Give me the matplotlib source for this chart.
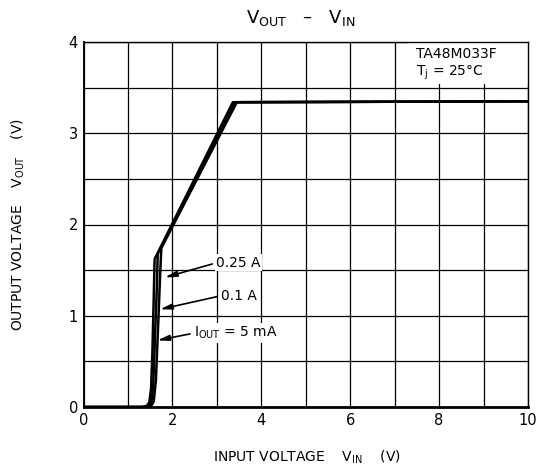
import matplotlib
matplotlib.use('Agg')
import matplotlib.pyplot as plt
from matplotlib.patches import Rectangle

# ---- data ----
vin_5ma = [0.0, 1.30, 1.42, 1.48, 1.52, 1.55, 1.58, 1.60, 3.36, 10.0]
vout_5ma = [0.0, 0.0, 0.01, 0.05, 0.20, 0.60, 1.20, 1.62, 3.34, 3.35]

vin_100ma = [0.0, 1.35, 1.47, 1.53, 1.57, 1.61, 1.65, 1.67, 3.40, 10.0]
vout_100ma = [0.0, 0.0, 0.01, 0.06, 0.25, 0.80, 1.30, 1.68, 3.34, 3.35]

vin_250ma = [0.0, 1.40, 1.52, 1.58, 1.63, 1.68, 1.72, 1.75, 3.45, 10.0]
vout_250ma = [0.0, 0.0, 0.01, 0.06, 0.30, 0.90, 1.40, 1.74, 3.34, 3.35]

x_ticks = [0, 2, 4, 6, 8, 10]
y_ticks = [0, 1, 2, 3, 4]

labels = ['0.25 A', '0.1 A', r'I$_{\mathrm{OUT}}$ = 5 mA']
label_xy = [(1.83, 1.42), (1.72, 1.07), (1.66, 0.73)]
label_text_xy = [(2.99, 1.58), (3.10, 1.22), (2.49, 0.81)]

W, H = 540, 468
fig = plt.figure(figsize=(W / 100, H / 100), dpi=100)
ax = fig.add_axes([83.5 / W, 1 - 407 / H, (528 - 83.5) / W, (407 - 42) / H])

for xs, ys in [(vin_5ma, vout_5ma), (vin_100ma, vout_100ma), (vin_250ma, vout_250ma)]:
    ax.plot(xs, ys, color='black', lw=1.8, solid_joinstyle='round', zorder=4)

ax.set_xlim(0, 10)
ax.set_ylim(0, 4)
ax.set_xticks(x_ticks)
ax.set_xticks([1, 3, 5, 7, 9], minor=True)
ax.set_yticks(y_ticks)
ax.set_yticks([0.5, 1.5, 2.5, 3.5], minor=True)
ax.grid(True, which='both', color='black', lw=0.9)
ax.set_axisbelow(True)
ax.tick_params(which='both', length=0, labelsize=10.5, pad=4)
ax.set_xticklabels([str(t) for t in x_ticks])
ax.set_yticklabels([str(t) for t in y_ticks])

for s in ['top', 'right']:
    ax.spines[s].set_linewidth(1.0)
ax.spines['left'].set_linewidth(1.4)
ax.spines['bottom'].set_linewidth(2.0)

# white box for device label
ax.add_patch(Rectangle((7.3, 3.54), 2.7, 0.46, facecolor='white', edgecolor='none', zorder=2))
ax.text(7.49, 3.87, 'TA48M033F', fontsize=10, ha='left', va='center', zorder=5)
ax.text(7.49, 3.66, r'T$_{\mathrm{j}}$ = 25°C', fontsize=10, ha='left', va='center', zorder=5)

for lab, xy, txy in zip(labels, label_xy, label_text_xy):
    ax.annotate(lab, xy=xy, xytext=txy, fontsize=10, ha='left', va='center', zorder=6,
                bbox=dict(boxstyle='square,pad=0.1', facecolor='white', edgecolor='none'),
                arrowprops=dict(arrowstyle='-|>,head_length=0.7,head_width=0.17',
                                color='black', lw=1.2, relpos=(0, 0.5),
                                shrinkA=2, shrinkB=0))

fig.text(301 / W, 1 - 18 / H, r'V$_{\mathrm{OUT}}$   –   V$_{\mathrm{IN}}$', fontsize=13,
         ha='center', va='center')
fig.text(307 / W, 1 - 457 / H, r'INPUT VOLTAGE    V$_{\mathrm{IN}}$    (V)', fontsize=10,
         ha='center', va='center')
fig.text(18 / W, 1 - 224.5 / H, r'OUTPUT VOLTAGE    V$_{\mathrm{OUT}}$    (V)', fontsize=10,
         ha='center', va='center', rotation=90)

fig.savefig('out.png', dpi=100)
